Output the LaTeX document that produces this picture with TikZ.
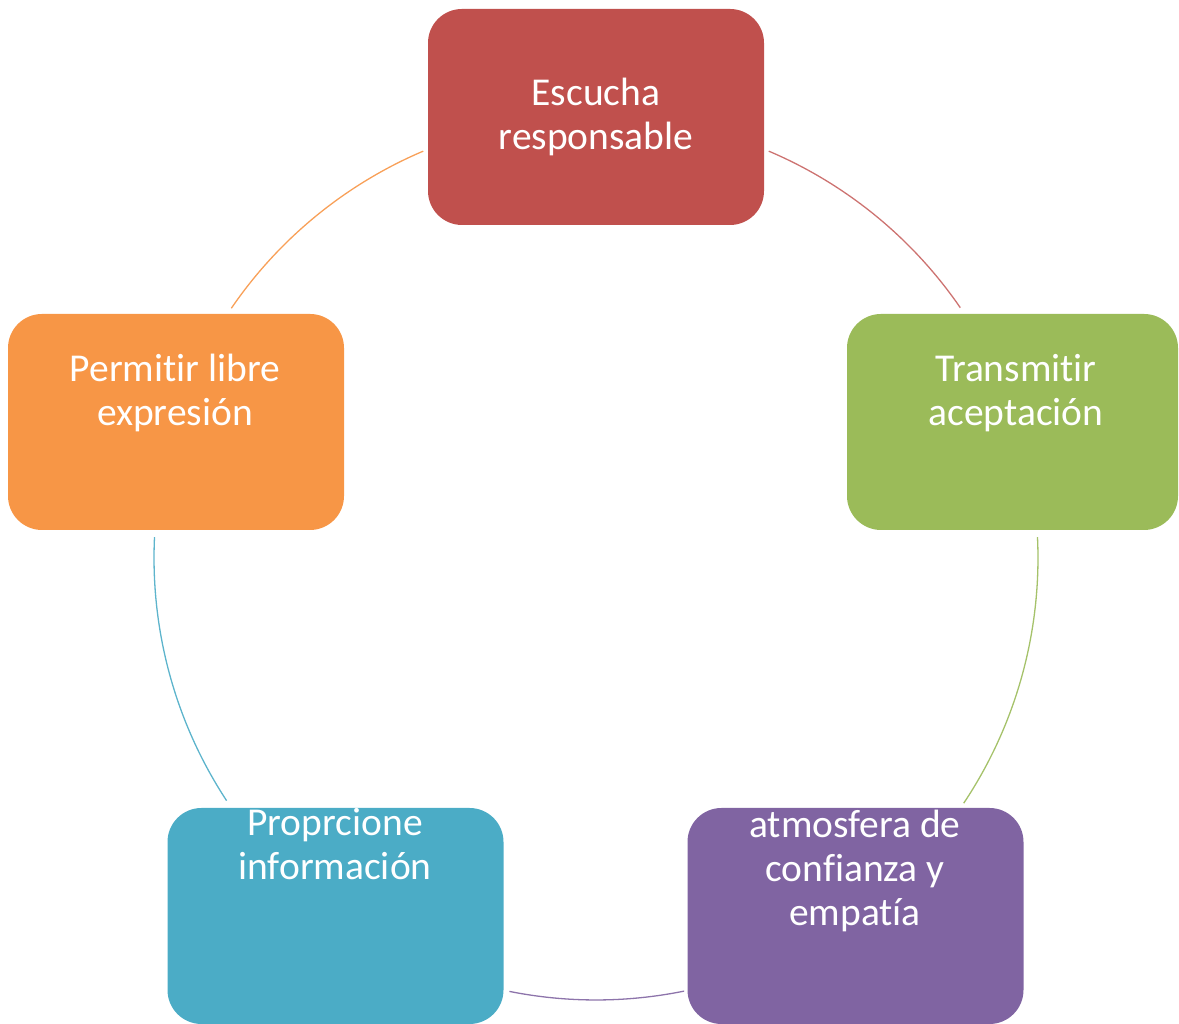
\documentclass[tikz,border=0pt]{standalone}
\usepackage{fontspec}
\setmainfont{Carlito}[Ligatures={NoCommon}]
\definecolor{cred}{HTML}{C0504D}
\definecolor{cgreen}{HTML}{9BBB59}
\definecolor{cpurple}{HTML}{8064A2}
\definecolor{cteal}{HTML}{4BACC6}
\definecolor{corange}{HTML}{F79646}
\tikzset{
  box/.style={rounded corners=34pt, minimum width=336pt, minimum height=216pt, inner sep=0pt, draw=none},
  lbl/.style={text=white, align=center, inner sep=0pt, font=\fontsize{39.5}{44}\selectfont},
  link/.style={line width=1.3pt},
}
\begin{document}
\begin{tikzpicture}[x=1pt,y=1pt]
\useasboundingbox (0,0) rectangle (1179,1024);
\coordinate (c) at (596,466);
% arcs
\draw[link, cred!80] ([shift={(67:442)}]c) arc[start angle=67, end angle=34.5, radius=442];
\draw[link, cgreen!90] ([shift={(2.7:442)}]c) arc[start angle=2.7, end angle=-33.7, radius=442];
\draw[link, cpurple!90] ([shift={(-78.5:442)}]c) arc[start angle=-78.5, end angle=-101.3, radius=442];
\draw[link, cteal!90] ([shift={(-146.7:442)}]c) arc[start angle=-146.7, end angle=-182.7, radius=442];
\draw[link, corange!90] ([shift={(145.6:442)}]c) arc[start angle=145.6, end angle=113, radius=442];
% boxes
\node[box, fill=cred] (b1) at (596,907) {};
\node[box, fill=cgreen, minimum width=331pt] (b2) at (1012.5,602) {};
\node[box, fill=cpurple] (b3) at (855.5,108) {};
\node[box, fill=cteal] (b4) at (335.5,108) {};
\node[box, fill=corange] (b5) at (176,602) {};
% labels
\node[lbl] (t1) at (596,907) {Escucha\\responsable};
\node[lbl] (t2) at (1016,631) {Transmitir\\aceptación};
\node[lbl] (t3) at (855,153) {atmosfera de\\confianza y\\empatía};
\node[lbl] (t4) at (335,180) {Proprcione\\información};
\node[lbl] (t5) at (175,631) {Permitir libre\\expresión};
\end{tikzpicture}
\end{document}
